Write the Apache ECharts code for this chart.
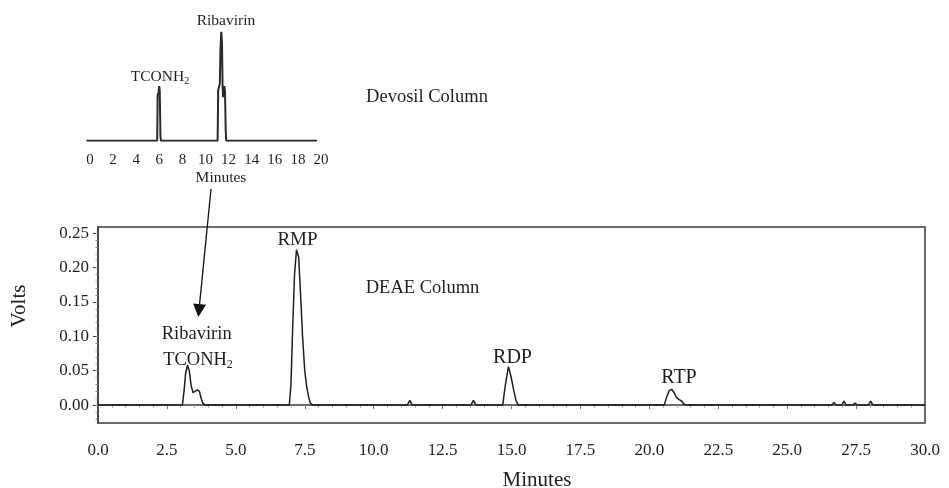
<!DOCTYPE html>
<html>
<head>
<meta charset="utf-8">
<script src="https://cdn.jsdelivr.net/npm/echarts@6/dist/echarts.min.js"></script>
<style>
html,body{margin:0;padding:0;background:#fff;}
#chart{width:949px;height:488px;}
</style>
</head>
<body>
<div id="chart"></div>
<script>
// ---- DEAE column chromatogram (main panel) ----
const deaeTime = [0, 3.06, 3.12, 3.18, 3.25, 3.31, 3.38, 3.45, 3.52, 3.6, 3.68, 3.74, 3.8, 3.9,
  6.94, 7.0, 7.06, 7.13, 7.2, 7.23, 7.28, 7.35, 7.42, 7.5, 7.57, 7.64, 7.7, 7.79,
  11.22, 11.31, 11.4, 13.53, 13.62, 13.71,
  14.68, 14.78, 14.89, 14.98, 15.07, 15.16, 15.25,
  20.54, 20.63, 20.72, 20.81, 20.9, 20.99, 21.08, 21.17, 21.24, 21.33,
  26.62, 26.7, 26.78, 26.98, 27.06, 27.14, 27.38, 27.46, 27.54, 27.95, 28.03, 28.11, 30];
const deaeVolts = [0, 0, 0.02, 0.047, 0.058, 0.05, 0.028, 0.018, 0.017, 0.022, 0.02, 0.01, 0.003, 0,
  0, 0.03, 0.11, 0.19, 0.226, 0.228, 0.215, 0.16, 0.1, 0.05, 0.027, 0.012, 0.003, 0,
  0, 0.007, 0, 0, 0.007, 0,
  0, 0.03, 0.056, 0.042, 0.024, 0.007, 0,
  0, 0.012, 0.021, 0.023, 0.018, 0.011, 0.008, 0.006, 0.002, 0,
  0, 0.004, 0, 0, 0.006, 0, 0, 0.003, 0, 0, 0.006, 0, 0];

// ---- Devosil column chromatogram (inset) ----
const devosilTime = [-0.3, 5.82, 5.86, 5.93, 5.99, 6.04, 6.1, 6.14,
  11.05, 11.1, 11.18, 11.24, 11.3, 11.37, 11.43, 11.48, 11.53, 11.58, 11.64, 11.69, 11.75, 11.8, 19.65];
const devosilSignal = [0, 0, 0.42, 0.44, 0.5, 0.46, 0.05, 0,
  0, 0.46, 0.5, 0.52, 0.85, 1.0, 0.9, 0.5, 0.4, 0.42, 0.5, 0.45, 0.1, 0, 0];

// ---- tick labels ----
const mainYTicks = [0, 0.05, 0.10, 0.15, 0.20, 0.25];
const mainYMinorTicks = [-0.02, -0.01, 0, 0.01, 0.02, 0.03, 0.04, 0.05, 0.06, 0.07, 0.08, 0.09, 0.10,
  0.11, 0.12, 0.13, 0.14, 0.15, 0.16, 0.17, 0.18, 0.19, 0.20, 0.21, 0.22, 0.23, 0.24, 0.25];
const insetXTicks = [0, 2, 4, 6, 8, 10, 12, 14, 16, 18, 20];

const FONT = '"Liberation Serif", "Times New Roman", serif';
const INK = '#1e1e1e';

const zip = (a, b) => a.map((v, i) => [v, b[i]]);

function txt(x, y, text, size) {
  return {
    type: 'text',
    style: {
      x: x, y: y, text: text,
      fontSize: size, fontFamily: FONT, fill: INK,
      textAlign: 'center', textVerticalAlign: 'middle'
    }
  };
}
function tconh2(x, y, size, sub) {
  return {
    type: 'text',
    style: {
      x: x, y: y,
      text: '{a|TCONH}{s|2}',
      textAlign: 'center', textVerticalAlign: 'middle',
      rich: {
        a: { fontSize: size, fontFamily: FONT, fill: INK, lineHeight: Math.round(size * 1.2) },
        s: { fontSize: sub, fontFamily: FONT, fill: INK, lineHeight: Math.round(sub * 0.7), verticalAlign: 'bottom' }
      }
    }
  };
}

const chart = echarts.init(document.getElementById('chart'), null, { renderer: 'canvas' });

// arrow geometry (annotation from inset to main panel)
const aStart = [211, 189], aTip = [198.3, 317];
const dx = aTip[0] - aStart[0], dy = aTip[1] - aStart[1];
const len = Math.sqrt(dx * dx + dy * dy), ux = dx / len, uy = dy / len;
const headL = 13, headW = 6.5;
const base = [aTip[0] - ux * headL, aTip[1] - uy * headL];

chart.setOption({
  animation: false,
  backgroundColor: '#fff',
  grid: [
    { left: 98, right: 24, top: 227, bottom: 65, outerBoundsMode: 'none', containLabel: false,
      show: true, borderColor: '#3a3a3a', borderWidth: 1.5, backgroundColor: 'transparent' },
    { left: 86.5, width: 236.8, top: 31.7, height: 109, outerBoundsMode: 'none', containLabel: false }
  ],
  xAxis: [
    {
      type: 'value', gridIndex: 0, min: 0, max: 30, interval: 2.5,
      name: 'Minutes', nameLocation: 'middle', nameGap: 47,
      nameTextStyle: { fontFamily: FONT, fontSize: 21, color: INK, padding: [0, 0, 0, 51] },
      axisLine: { show: true, lineStyle: { color: '#3a3a3a', width: 1.5 } },
      axisTick: { show: true, length: 4, lineStyle: { color: '#777' } },
      minorTick: { show: true, splitNumber: 5, length: 2.5, lineStyle: { color: '#999' } },
      splitLine: { show: false },
      axisLabel: { fontFamily: FONT, fontSize: 17, color: INK, margin: 19, formatter: v => v.toFixed(1) }
    },
    {
      type: 'value', gridIndex: 1, min: -0.3, max: 20.2,
      axisLine: { show: false }, axisTick: { show: false }, splitLine: { show: false },
      axisLabel: { fontFamily: FONT, fontSize: 15, color: INK, margin: 12, customValues: insetXTicks, formatter: v => String(v) }
    }
  ],
  yAxis: [
    {
      type: 'value', gridIndex: 0, min: -0.026, max: 0.259,
      name: 'Volts', nameLocation: 'middle', nameGap: 68,
      nameTextStyle: { fontFamily: FONT, fontSize: 21, color: INK, padding: [0, 0, 0, 38] },
      axisLine: { show: true, lineStyle: { color: '#3a3a3a', width: 1.5 } },
      axisTick: { show: true, length: 5, customValues: mainYTicks, lineStyle: { color: '#333' } },
      splitLine: { show: false },
      axisLabel: { fontFamily: FONT, fontSize: 17, color: INK, margin: 9, customValues: mainYTicks, formatter: v => v.toFixed(2) }
    },
    {
      type: 'value', gridIndex: 0, min: -0.026, max: 0.259, position: 'left',
      axisLine: { show: false },
      axisTick: { show: true, length: 2.5, customValues: mainYMinorTicks, lineStyle: { color: '#888' } },
      axisLabel: { show: false }, splitLine: { show: false }
    },
    {
      type: 'value', gridIndex: 1, min: 0, max: 1,
      axisLine: { show: false }, axisTick: { show: false }, axisLabel: { show: false }, splitLine: { show: false }
    }
  ],
  series: [
    {
      name: 'DEAE Column', type: 'line', xAxisIndex: 0, yAxisIndex: 0,
      data: zip(deaeTime, deaeVolts), showSymbol: false, symbol: 'none',
      lineStyle: { color: INK, width: 1.5 }, silent: true
    },
    {
      name: 'Devosil Column', type: 'line', xAxisIndex: 1, yAxisIndex: 2,
      data: zip(devosilTime, devosilSignal), showSymbol: false, symbol: 'none',
      lineStyle: { color: '#2a2a2a', width: 2 }, silent: true
    }
  ],
  graphic: [
    txt(427, 97, 'Devosil Column', 18.5),
    txt(226, 21, 'Ribavirin', 15.5),
    tconh2(160, 77, 15.5, 10),
    txt(221, 178, 'Minutes', 15.5),
    txt(422.5, 288, 'DEAE Column', 18.5),
    txt(297.5, 240, 'RMP', 19),
    txt(196.7, 334, 'Ribavirin', 18.5),
    tconh2(198, 360, 18.5, 12),
    txt(512.5, 358, 'RDP', 20),
    txt(679, 378, 'RTP', 20),
    {
      type: 'line',
      shape: { x1: aStart[0], y1: aStart[1], x2: base[0], y2: base[1] },
      style: { stroke: '#111', lineWidth: 1.3 }
    },
    {
      type: 'polygon',
      shape: { points: [aTip, [base[0] - uy * headW, base[1] + ux * headW], [base[0] + uy * headW, base[1] - ux * headW]] },
      style: { fill: '#111' }
    }
  ]
});
</script>
</body>
</html>
